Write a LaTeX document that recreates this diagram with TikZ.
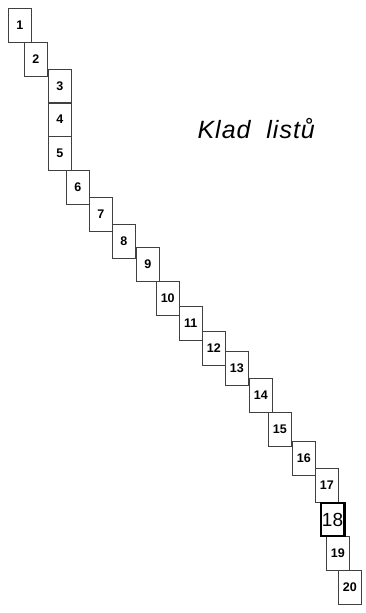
\documentclass[tikz,border=0pt]{standalone}
\usepackage{fontspec}
\setmainfont{Liberation Sans}
\newfontfamily\cadfont[LetterSpace=4]{Liberation Sans}
\usetikzlibrary{positioning}

\begin{document}
\begin{tikzpicture}[x=1pt, y=-1pt,
  sheet/.style={rectangle, draw=black!75, line width=0.6pt, inner sep=0pt,
                minimum width=23.5pt, minimum height=34pt,
                font=\fontsize{12.5}{12.5}\selectfont\bfseries},
  current/.style={rectangle, draw=black, line width=2.5pt, inner sep=0pt,
                  minimum width=23.5pt, minimum height=33pt,
                  font=\fontsize{19}{19}\selectfont},
  title/.style={anchor=base west, font=\cadfont\fontsize{25}{25}\selectfont\itshape}
]
\useasboundingbox (0,0) rectangle (366,613);

% Sheets, top to bottom
\foreach \n/\x/\y in {1/19.75/25, 2/35.75/59, 3/59.75/86, 4/59.75/119,
    5/59.75/153, 6/77.75/187, 7/100.75/214, 8/123.75/241, 9/147.75/264,
    10/167.75/298, 11/190.75/323, 12/213.75/348, 13/236.75/368,
    14/260.75/395, 15/279.75/429, 16/303.75/458, 17/326.75/485,
    19/337.75/553, 20/349.75/587}
  \node[sheet] (s\n) at (\x,\y) {\n};

% Highlighted sheet
\node[current] (s18) at (332.5,519.5) {18};

% Title
\node[title] (klad) at (194,138) {Klad\ \ listů};
\end{tikzpicture}
\end{document}
